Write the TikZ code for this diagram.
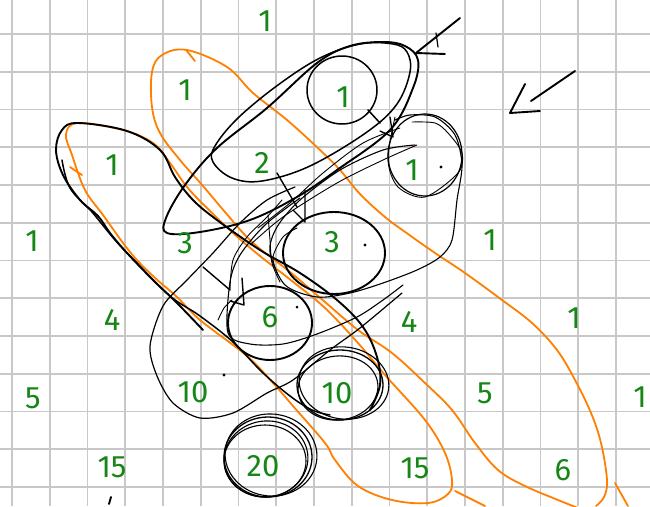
\documentclass[tikz,border=0pt]{standalone}
\usepackage{fontspec}
\setmainfont{Fira Sans}
\definecolor{gridc}{RGB}{200,200,200}
\definecolor{numc}{RGB}{22,135,22}
\definecolor{orng}{RGB}{255,128,0}
\tikzset{
  gridl/.style={draw=gridc,line width=1.6},
  ink/.style={draw=black,line width=1.9,line cap=round,line join=round},
  fine/.style={draw=black,line width=0.9,line cap=round,line join=round},
  orl/.style={draw=orng,line width=1.8,line cap=round,line join=round},
  num/.style={text=numc,font=\fontsize{31}{31}\selectfont,inner sep=0pt},
}
\begin{document}
\begin{tikzpicture}[x=1pt,y=-1pt]
\useasboundingbox (0,0) rectangle (650,506);
\fill[white] (0,0) rectangle (650,506);
% grid
\foreach \i in {0,...,16}{\draw[gridl] ({12+37.75*\i},0) -- ({12+37.75*\i},506);}
\foreach \j in {0,...,12}{\draw[gridl] (0,{34+37.75*\j}) -- (650,{34+37.75*\j});}

% orange loops
\draw[orl] plot[smooth, tension=0.6] coordinates {(578,508) (558,500) (525,486) (498,470) (475,443) (452,410) (425,383) (392,353) (358,330) (325,302) (290,272) (252,242) (225,212) (203,186) (180,160) (160,133) (152,107) (152,72) (162,55) (187,50) (227,67) (253,93) (287,120) (320,150) (340,170) (360,194) (385,217) (408,234) (435,253) (465,273) (502,300) (532,323) (557,350) (575,380) (591,413) (601,443) (607,480) (604,497) (596,506)};
\draw[orl] plot[smooth cycle, tension=0.6] coordinates {(78,123) (123,130) (153,143) (170,163) (187,187) (207,208) (233,233) (260,256) (292,281) (325,308) (358,343) (385,375) (425,420) (445,453) (452,480) (448,494) (428,503) (392,500) (358,486) (335,460) (325,443) (293,406) (273,383) (247,356) (200,320) (177,297) (153,276) (130,252) (103,215) (85,190) (72,155) (66,134)};
\draw[orl] (186,50) -- (195,61);
\draw[orl] (70,167) -- (82,175);
\draw[orl] (615,483) -- (628,506);
\draw[orl] (455,491) -- (485,506);

% big ellipses around 1 and 2
\draw[ink] plot[smooth cycle, tension=0.6] coordinates {(167,233) (200,232) (250,220) (297,197) (337,170) (390,130) (413,88) (418,60) (405,46) (383,42) (350,46) (317,63) (267,108) (217,148) (185,185) (166,218)};
\draw[ink,line width=1.5] plot[smooth cycle, tension=0.6] coordinates {(213,162) (232,178) (262,181) (310,166) (367,132) (397,104) (410,72) (407,52) (393,44) (360,44) (320,58) (278,85) (238,118) (215,146)};
% circle around top 1
\draw[ink,line width=1.5] (342,90) ellipse [x radius=35,y radius=34];
\draw[ink,line width=1.5] (368,110) -- (380,123);
% circle around right 1
\draw[ink,line width=1.2] (425,155) ellipse [x radius=37,y radius=41];
\draw[fine] plot[smooth] coordinates {(395,117) (388,160) (398,187) (425,197) (458,173) (462,153) (448,133) (435,123) (412,122)};
% big loop around right 1 and 3
\draw[fine,line width=1.1] plot[smooth] coordinates {(415,145) (383,150) (340,170) (300,200) (277,227) (270,252) (285,285) (317,297) (350,293) (383,283) (417,270) (440,257) (452,240) (457,200) (462,165) (455,135) (435,117) (410,115) (395,120)};
% circle around 3
\draw[ink] (334,253) ellipse [x radius=51,y radius=41];
\draw[fine] plot[smooth] coordinates {(297,228) (283,237) (273,257) (278,275)};
% loop around 6 sweeping right
\draw[fine,line width=1.1] plot[smooth] coordinates {(300,198) (265,225) (240,255) (230,282) (228,333) (250,344) (283,344) (317,334) (357,317) (383,300) (403,285)};
% circle around 6
\draw[ink] (270,323) ellipse [x radius=42,y radius=37];
% blob around left 10
\draw[fine,line width=1.2] plot[smooth] coordinates {(295,187) (267,200) (240,223) (213,253) (187,280) (163,306) (150,346) (157,376) (173,403) (200,418) (233,413) (267,393) (293,380) (330,350) (360,328) (402,293)};
% left long loop
\draw[ink] plot[smooth, tension=0.6] coordinates {(203,330) (177,303) (153,280) (127,253) (110,233) (98,216) (80,200) (63,175) (56,150) (62,130) (78,123) (127,131) (160,150) (175,177) (193,200) (217,220) (260,250) (300,273) (337,300) (363,327) (377,357) (380,385) (370,410)};
\draw[ink,line width=1.5] plot[smooth, tension=0.6] coordinates {(62,160) (70,188) (92,212) (115,240) (137,263) (170,296) (200,316) (233,342) (262,372) (290,396) (312,410) (330,415)};
% circles around right 10
\draw[ink,line width=1.3] (340,385) ellipse [x radius=43,y radius=35];
\draw[fine,line width=1.1,rotate around={6:(338,388)}] (338,388) ellipse [x radius=40,y radius=32];
\draw[fine,line width=1.1,rotate around={-8:(344,383)}] (344,383) ellipse [x radius=45,y radius=36];
% circles around 20
\draw[ink,line width=1.3] (268,457) ellipse [x radius=44,y radius=40];
\draw[fine,line width=1.1,rotate around={8:(266,459)}] (266,459) ellipse [x radius=42,y radius=38];
\draw[fine,line width=1.1,rotate around={-6:(271,455)}] (271,455) ellipse [x radius=46,y radius=41];
\draw[fine,line width=1.1] (265,461) ellipse [x radius=41,y radius=36];
% thin strokes
\draw[fine] plot[smooth] coordinates {(250,245) (283,217) (337,183) (383,160) (417,145)};
\draw[fine] plot[smooth] coordinates {(258,228) (290,203) (323,173) (363,143) (400,128)};
\draw[fine] plot[smooth] coordinates {(230,290) (233,260) (247,237) (267,217) (282,200)};
\draw[fine] plot[smooth] coordinates {(268,215) (270,240) (272,263) (280,282)};
\draw[fine] plot[smooth] coordinates {(218,320) (224,308) (232,300)};
% arrows
\draw[ink] (460,18) -- (416,53) -- (445,54);
\draw[fine,line width=1.2] (436,33) -- (438,47);
\draw[ink] (575,71) -- (531,101);
\draw[ink] (525,84) -- (510,113) -- (540,111);
\draw[ink,line width=1.4] (277,173) -- (297,207);
\draw[ink,line width=1.4] (293,210) -- (305,222) -- (305,190);
\draw[ink,line width=1.4] (203,267) -- (230,290);
\draw[ink,line width=1.4] (242,278) -- (244,305) -- (230,301);
\draw[ink,line width=1.3] (390,117) -- (393,137) -- (380,131);
% dots
\fill (441,167) circle (1.7);
\fill (365,245) circle (1.7);
\fill (297,307) circle (1.5);
\fill (224,375) circle (1.7);
\draw[ink] (109,504) -- (111,497);

% numbers
\node[num] (n1) at (265,21) {1};
\node[num] (n2) at (185,90) {1};
\node[num] (n3) at (112,165) {1};
\node[num] (n4) at (343,97) {1};
\node[num] (n5) at (262,163) {2};
\node[num] (n6) at (412,170) {1};
\node[num] (n7) at (32,241) {1};
\node[num] (n8) at (185,243) {3};
\node[num] (n9) at (332,242) {3};
\node[num] (n10) at (490,240) {1};
\node[num] (n11) at (112,320) {4};
\node[num] (n12) at (270,317) {6};
\node[num] (n13) at (409,322) {4};
\node[num] (n14) at (574,318) {1};
\node[num] (n15) at (33,398) {5};
\node[num] (n16) at (193,392) {10};
\node[num] (n17) at (337,393) {10};
\node[num] (n18) at (485,393) {5};
\node[num] (n19) at (640,397) {1};
\node[num] (n20) at (112,467) {15};
\node[num] (n21) at (263,466) {20};
\node[num] (n22) at (415,468) {15};
\node[num] (n23) at (563,470) {6};
\end{tikzpicture}
\end{document}
